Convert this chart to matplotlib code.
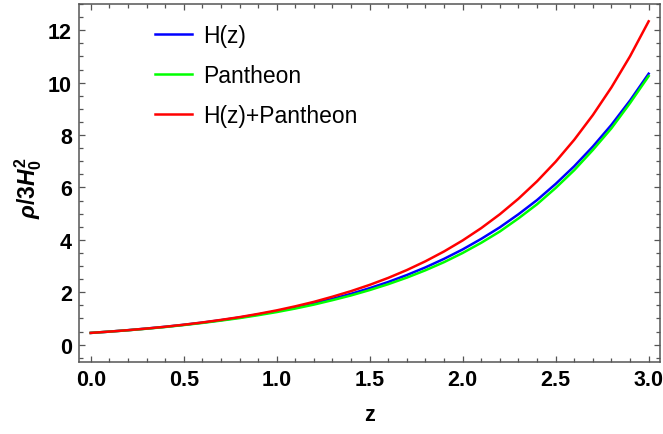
import matplotlib
matplotlib.use("Agg")
import matplotlib.pyplot as plt
from matplotlib.ticker import MultipleLocator, FormatStrFormatter

plt.rcParams['font.family'] = ['Liberation Sans', 'DejaVu Sans']
plt.rcParams['mathtext.fontset'] = 'custom'
plt.rcParams['mathtext.it'] = 'Liberation Sans:bold:italic'
plt.rcParams['mathtext.rm'] = 'Liberation Sans:bold'
plt.rcParams['mathtext.bf'] = 'Liberation Sans:bold'

z = [0.0, 0.1, 0.2, 0.3, 0.4, 0.5, 0.6, 0.7, 0.8, 0.9, 1.0,
     1.1, 1.2, 1.3, 1.4, 1.5, 1.6, 1.7, 1.8, 1.9, 2.0,
     2.1, 2.2, 2.3, 2.4, 2.5, 2.6, 2.7, 2.8, 2.9, 3.0]
rho_hz = [0.45, 0.4996, 0.554, 0.6157, 0.683, 0.7588, 0.842, 0.9352, 1.038, 1.1525, 1.279,
          1.4204, 1.576, 1.7506, 1.942, 2.1577, 2.394, 2.659, 2.951, 3.277, 3.636,
          4.039, 4.48, 4.978, 5.52, 6.135, 6.81, 7.561, 8.39, 9.318, 10.34]
rho_pantheon = [0.45, 0.499, 0.55, 0.61, 0.675, 0.75, 0.83, 0.92, 1.015, 1.125, 1.245,
                1.38, 1.53, 1.70, 1.88, 2.085, 2.31, 2.56, 2.84, 3.15, 3.50,
                3.89, 4.32, 4.82, 5.36, 5.98, 6.66, 7.43, 8.26, 9.22, 10.25]
rho_joint = [0.45, 0.4996, 0.554, 0.616, 0.684, 0.762, 0.848, 0.946, 1.052, 1.175, 1.31,
             1.465, 1.635, 1.832, 2.045, 2.283, 2.55, 2.849, 3.184, 3.559, 3.979,
             4.45, 4.978, 5.571, 6.236, 6.983, 7.821, 8.763, 9.82, 11.006, 12.34]
labels = ['H(z)', 'Pantheon', 'H(z)+Pantheon']
colors = ['#0000ff', '#00ff00', '#ff0000']

fig = plt.figure(figsize=(6.63, 4.35), dpi=100)
ax = fig.add_axes([79/663, 1 - 363/435, (660 - 79)/663, (363 - 5)/435])

for ys, lab, c in zip([rho_hz, rho_pantheon, rho_joint], labels, colors):
    ax.plot(z, ys, color=c, lw=1.8, label=lab, solid_joinstyle='round')

ax.set_xlim(-0.063, 3.061)
ax.set_ylim(-0.66, 13.0)
ax.xaxis.set_major_locator(MultipleLocator(0.5))
ax.xaxis.set_minor_locator(MultipleLocator(0.1))
ax.yaxis.set_major_locator(MultipleLocator(2))
ax.yaxis.set_minor_locator(MultipleLocator(0.5))
ax.xaxis.set_major_formatter(FormatStrFormatter('%.1f'))

frame_c = '#555555'
for s in ax.spines.values():
    s.set_color(frame_c)
    s.set_linewidth(1.1)
ax.tick_params(which='both', direction='in', top=True, right=True, color=frame_c, width=0.9)
ax.tick_params(which='major', length=4.3, labelsize=15.5, pad=5)
ax.tick_params(which='minor', length=2.7)
for t in ax.get_xticklabels() + ax.get_yticklabels():
    t.set_fontweight('bold')

ax.set_xlabel('z', fontsize=15.5, fontweight='bold', labelpad=10)
ax.set_ylabel(r'$\rho/3H_0^2$', fontsize=16.5)
ax.yaxis.set_label_coords(-0.061, 0.49)

ax.legend(loc='upper left', bbox_to_anchor=(0.103, 0.99), frameon=False,
          fontsize=16.5, handlelength=1.6, handletextpad=0.5, labelspacing=0.75,
          borderaxespad=0.3)

fig.savefig('out.png', dpi=100)
